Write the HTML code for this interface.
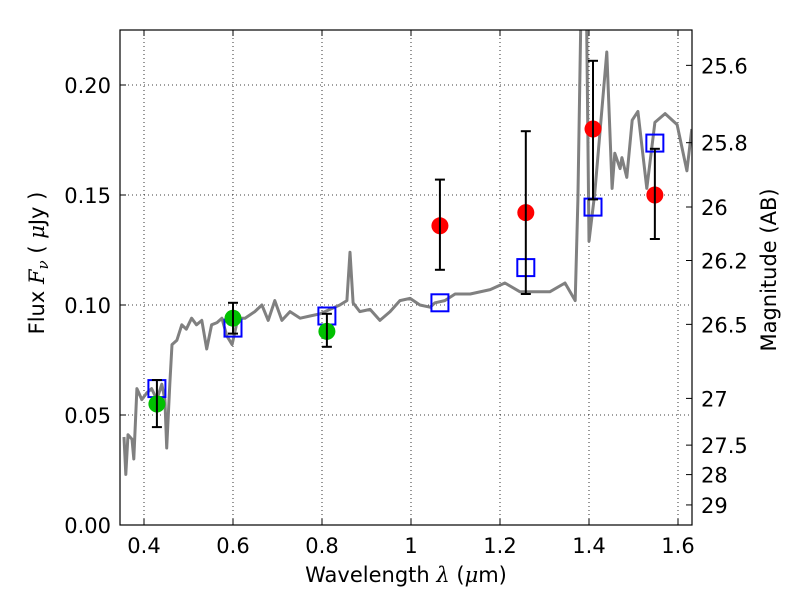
<!DOCTYPE html>
<html><head><meta charset="utf-8"><style>
body{margin:0;background:#fff}
svg text{font-family:"DejaVu Sans","Liberation Sans",sans-serif;font-size:21px;fill:#000}
</style></head><body>
<svg id="chart" width="800" height="600"></svg>
<script>
const specWave=[0.355,0.359,0.364,0.373,0.377,0.384,0.395,0.406,0.417,0.429,0.440,0.447,0.451,0.458,0.463,0.474,0.485,0.495,0.507,0.518,0.530,0.541,0.552,0.564,0.575,0.586,0.598,0.611,0.627,0.649,0.665,0.679,0.694,0.710,0.728,0.751,0.773,0.796,0.818,0.840,0.856,0.863,0.870,0.885,0.908,0.930,0.953,0.975,0.998,1.020,1.043,1.054,1.076,1.099,1.133,1.178,1.211,1.245,1.279,1.312,1.346,1.369,1.375,1.384,1.393,1.400,1.413,1.440,1.452,1.458,1.470,1.474,1.485,1.497,1.510,1.530,1.548,1.571,1.598,1.620,1.631];
const specFlux=[0.040,0.023,0.041,0.039,0.030,0.062,0.057,0.060,0.062,0.057,0.064,0.057,0.035,0.064,0.082,0.084,0.091,0.089,0.094,0.091,0.093,0.080,0.091,0.092,0.094,0.086,0.082,0.094,0.094,0.097,0.100,0.093,0.102,0.093,0.097,0.094,0.095,0.096,0.098,0.100,0.102,0.124,0.101,0.097,0.098,0.093,0.097,0.102,0.103,0.100,0.099,0.101,0.102,0.105,0.105,0.107,0.110,0.106,0.106,0.106,0.110,0.102,0.148,0.260,0.260,0.129,0.151,0.215,0.153,0.169,0.162,0.167,0.158,0.184,0.188,0.153,0.183,0.187,0.182,0.161,0.180];
const greenWave=[0.429,0.600,0.811];
const greenFlux=[0.055,0.094,0.088];
const greenLo=[0.0445,0.087,0.081];
const greenHi=[0.0659,0.101,0.096];
const redWave=[1.065,1.258,1.409,1.548];
const redFlux=[0.136,0.142,0.180,0.150];
const redLo=[0.116,0.105,0.148,0.130];
const redHi=[0.157,0.179,0.211,0.171];
const modelWave=[0.429,0.600,0.811,1.065,1.258,1.409,1.548];
const modelFlux=[0.062,0.0895,0.095,0.101,0.117,0.1445,0.1736];
const xTicks=[0.4,0.6,0.8,1.0,1.2,1.4,1.6];
const xTickLabels=["0.4","0.6","0.8","1","1.2","1.4","1.6"];
const yTicks=[0,0.05,0.10,0.15,0.20];
const yTickLabels=["0.00","0.05","0.10","0.15","0.20"];
const magTicks=[25.6,25.8,26,26.2,26.5,27,27.5,28,29];
const magTickLabels=["25.6","25.8","26","26.2","26.5","27","27.5","28","29"];

const L=120,R=692,T=30,B=525;
const X=w=>144+(w-0.4)*445;
const Y=f=>B-f*2200;
const magToFlux=m=>Math.pow(10,(23.9-m)/2.5);
const svg=document.getElementById('chart');
const NS='http://www.w3.org/2000/svg';
function mk(t,a,p){const e=document.createElementNS(NS,t);for(const k in a)e.setAttribute(k,a[k]);(p||svg).appendChild(e);return e;}

const defs=mk('defs',{});const cp=mk('clipPath',{id:'clip'},defs);mk('rect',{x:L,y:T,width:R-L,height:B-T},cp);

xTicks.forEach(v=>{const g=mk('line',{x1:X(v),x2:X(v),y1:T,y2:B,stroke:'#000','stroke-dasharray':'1,3','stroke-width':0.8});

});
yTicks.forEach(v=>{const g=mk('line',{x1:L,x2:R,y1:Y(v),y2:Y(v),stroke:'#000','stroke-dasharray':'1,3','stroke-width':0.8});

});

const pts=specWave.map((w,i)=>X(w).toFixed(1)+','+Y(specFlux[i]).toFixed(1)).join(' ');
const sp=mk('polyline',{points:pts,fill:'none',stroke:'#808080','stroke-width':3,'clip-path':'url(#clip)','stroke-linejoin':'round'});



modelWave.forEach((w,i)=>{const s=mk('rect',{x:X(w)-8.5,y:Y(modelFlux[i])-8.5,width:17,height:17,fill:'none',stroke:'#0000ff','stroke-width':2});

});

function pointsSeries(ws,fs,lo,hi,color,name){
 ws.forEach((w,i)=>{
  const x=X(w);
  const c=mk('circle',{cx:x,cy:Y(fs[i]),r:8.5,fill:color});
  
  
  const g=mk('g',{stroke:'#000','stroke-width':2});
  
  
  mk('line',{x1:x,x2:x,y1:Y(lo[i]),y2:Y(hi[i])},g);
  mk('line',{x1:x-5,x2:x+5,y1:Y(lo[i]),y2:Y(lo[i])},g);
  mk('line',{x1:x-5,x2:x+5,y1:Y(hi[i]),y2:Y(hi[i])},g);
 });
}
pointsSeries(greenWave,greenFlux,greenLo,greenHi,'#00c000','hst-observed');
pointsSeries(redWave,redFlux,redLo,redHi,'#ff0000','nir-observed');

const fr=mk('rect',{x:L,y:T,width:R-L,height:B-T,fill:'none',stroke:'#000','stroke-width':1.2});



xTicks.forEach((v,i)=>{
 mk('line',{x1:X(v),x2:X(v),y1:B,y2:B-6,stroke:'#000'});mk('line',{x1:X(v),x2:X(v),y1:T,y2:T+6,stroke:'#000'});
 const t=mk('text',{x:X(v),y:B+28,'text-anchor':'middle'});t.textContent=xTickLabels[i];
 
 
});
yTicks.forEach((v,i)=>{
 mk('line',{x1:L,x2:L+6,y1:Y(v),y2:Y(v),stroke:'#000'});
 const t=mk('text',{x:L-9,y:Y(v)+8,'text-anchor':'end'});t.textContent=yTickLabels[i];
 
 
});
magTicks.forEach((m,i)=>{
 const y=Y(magToFlux(m));
 mk('line',{x1:R-6,x2:R,y1:y,y2:y,stroke:'#000'});
 const t=mk('text',{x:R+9,y:y+8});t.textContent=magTickLabels[i];
 
 
});
</script>
<svg width="800" height="600" style="position:absolute;left:0;top:0">
<text x="406" y="582" text-anchor="middle">Wavelength  <tspan font-style="italic" font-family="DejaVu Serif">λ</tspan> (<tspan font-style="italic" font-family="DejaVu Serif">μ</tspan>m)</text>
<text transform="translate(44,263) rotate(-90)" text-anchor="middle">Flux  <tspan font-style="italic" font-family="DejaVu Serif">F</tspan><tspan font-style="italic" font-family="DejaVu Serif" font-size="15" dy="4">ν</tspan><tspan dy="-4">  ( </tspan><tspan font-style="italic" font-family="DejaVu Serif">μ</tspan>Jy )</text>
<text transform="translate(776,270) rotate(-90)" text-anchor="middle">Magnitude (AB)</text>
</svg>
</body></html>
